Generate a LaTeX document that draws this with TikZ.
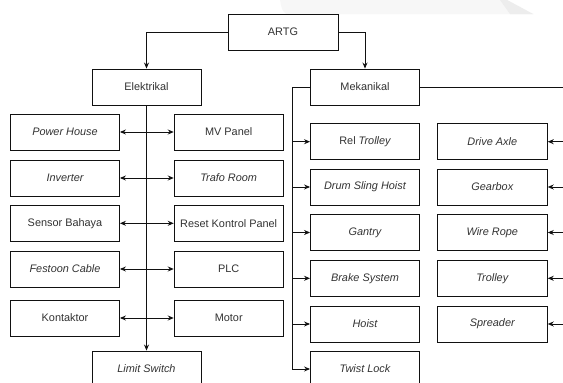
\documentclass[tikz,border=0pt]{standalone}
\usepackage{fontspec}
\setmainfont{Liberation Sans}
\usetikzlibrary{arrows.meta}
\definecolor{txt}{HTML}{333333}
\definecolor{ln}{HTML}{111111}
\begin{document}
\begin{tikzpicture}[x=1pt,y=-1pt,
  box/.style={draw=ln,line width=0.9pt,minimum width=109pt,minimum height=36pt,inner sep=0pt,
    text=txt,font=\fontsize{10.9}{12}\selectfont},
  conn/.style={draw=ln,line width=0.9pt},
  arr/.style={conn,-{Stealth[length=6pt,width=5pt]}},
  darr/.style={conn,{Stealth[length=6pt,width=5pt]}-{Stealth[length=6pt,width=5pt]}}]
\useasboundingbox (0,0) rectangle (563,383);
\clip (0,0) rectangle (563,383);
\fill[white] (0,0) rectangle (563,383);
% faint background shape
\fill[black!3] (280,0) -- (507,0) -- (533,14) -- (286,14) .. controls (282,10) .. (280,0) -- cycle;
\fill[black!7] (500,0) -- (507,0) -- (533,14) -- (510,14) -- cycle;
% top
\node[box,minimum width=110pt] (artg) at (283,32) {ARTG};
\node[box] (el) at (146.5,87) {Elektrikal};
\node[box] (mk) at (365,87) {Mekanikal};
% elektrikal
\node[box] (ph) at (65,132) {\itshape Power House};
\node[box] (mv) at (228.7,132) {MV Panel};
\node[box] (inv) at (65,178) {\itshape Inverter};
\node[box] (tr) at (228.7,178) {\itshape Trafo Room};
\node[box] (sb) at (65,223.3) {Sensor Bahaya};
\node[box] (rk) at (228.7,223.3) {Reset Kontrol Panel};
\node[box] (fc) at (65,269) {\itshape Festoon Cable};
\node[box] (plc) at (228.7,269) {PLC};
\node[box] (kt) at (65,318) {Kontaktor};
\node[box] (mo) at (228.7,318) {Motor};
\node[box] (ls) at (146.5,369) {\itshape Limit Switch};
% mekanikal
\node[box] (rt) at (365,141.7) {Rel \itshape Trolley};
\node[box] (dsh) at (365,187) {\itshape Drum Sling Hoist};
\node[box] (ga) at (365,232.5) {\itshape Gantry};
\node[box] (bs) at (365,278.3) {\itshape Brake System};
\node[box] (ho) at (365,324) {\itshape Hoist};
\node[box] (tl) at (365,369) {\itshape Twist Lock};
\node[box,minimum width=110pt] (da) at (492.3,141.7) {\itshape Drive Axle};
\node[box,minimum width=110pt] (gb) at (492.3,187) {\itshape Gearbox};
\node[box,minimum width=110pt] (wr) at (492.3,232.5) {\itshape Wire Rope};
\node[box,minimum width=110pt] (tro) at (492.3,278.3) {\itshape Trolley};
\node[box,minimum width=110pt] (sp) at (492.3,324) {\itshape Spreader};
% connectors top
\draw[arr] (artg.west) -| (el.north);
\draw[arr] (artg.east) -| (mk.north);
% elektrikal connectors
\draw[arr] (el.south) -- (ls.north);
\draw[darr] (ph.east) -- (mv.west);
\draw[darr] (inv.east) -- (tr.west);
\draw[darr] (sb.east) -- (rk.west);
\draw[darr] (fc.east) -- (plc.west);
\draw[darr] (kt.east) -- (mo.west);
% mekanikal left bus
\coordinate (lb) at (292.3,87);
\draw[arr] (mk.west) -- (lb) |- (tl.west);
\foreach \n in {rt,dsh,ga,bs,ho} \draw[arr] (lb |- \n.west) -- (\n.west);
% mekanikal right bus (off page)
\coordinate (rb) at (575,87);
\draw[conn] (mk.east) -- (rb) -- (rb |- sp.east);
\foreach \n in {da,gb,wr,tro,sp} \draw[arr] (rb |- \n.east) -- (\n.east);
\end{tikzpicture}
\end{document}
